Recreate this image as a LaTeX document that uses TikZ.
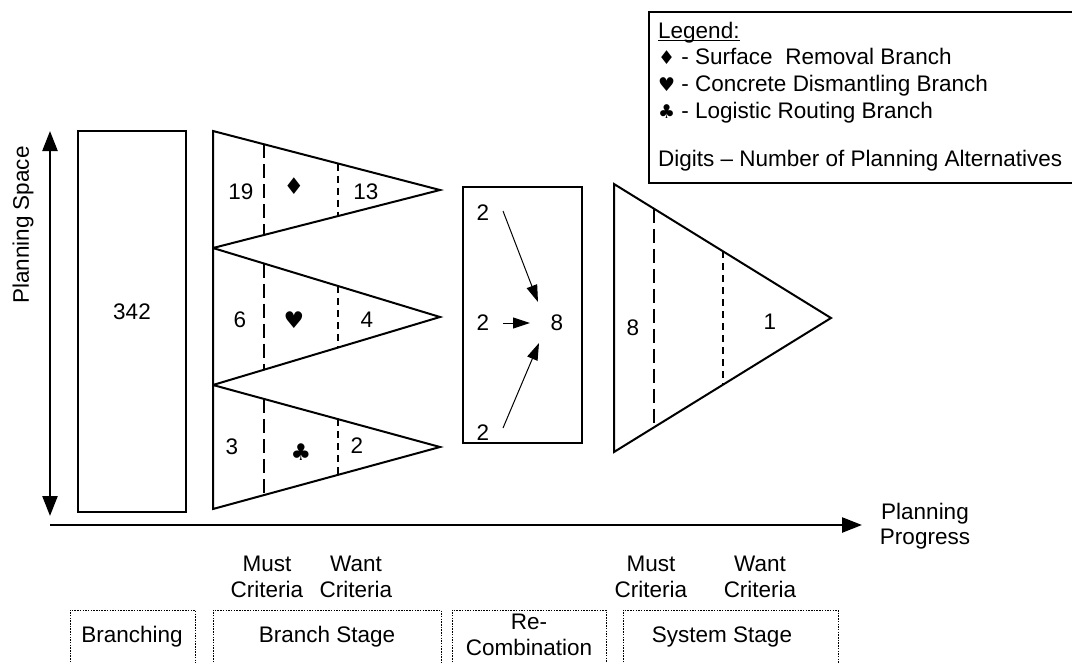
\documentclass[tikz,border=0pt]{standalone}
\usepackage{fontspec}
\setmainfont{Liberation Sans}
\newfontfamily\symf{DejaVu Sans}
\usetikzlibrary{arrows.meta}
\tikzset{
  txt/.style={inner sep=0pt, align=center},
  shapeline/.style={line width=2pt, line join=miter},
  longdash/.style={line width=1.4pt, dash pattern=on 14pt off 6pt},
  shortdash/.style={line width=1.4pt, dash pattern=on 7pt off 5pt},
  axis/.style={line width=2.4pt, -{Triangle[length=20pt,width=15pt]}},
  dblaxis/.style={line width=2.4pt, {Triangle[length=20pt,width=15pt]}-{Triangle[length=20pt,width=15pt]}},
  recarrow/.style={line width=1pt, -{Triangle[length=17pt,width=11pt]}},
  dotbox/.style={line width=1pt, dash pattern=on 1.5pt off 1.2pt},
  legendbox/.style={line width=1.8pt},
  uline/.style={line width=1.1pt},
}
\newcommand{\symsmall}[1]{{\symf\fontsize{19}{19}\selectfont #1}}
\newcommand{\symbig}[1]{{\symf\fontsize{23}{23}\selectfont #1}}
\begin{document}
\begin{tikzpicture}[x=1pt,y=-1pt,font=\fontsize{22.5}{25.5}\selectfont]
\useasboundingbox (0,0) rectangle (1072,662);

% legend
\draw[legendbox] (1075,12) -- (649,12) -- (649,183) -- (1075,183);
\node[txt,anchor=base west] (lg0) at (658,38) {Legend:};
\draw[uline] ([yshift=-2.5pt]lg0.base west) -- ([yshift=-2.5pt]lg0.base east);
\node[txt,anchor=base west] (lg1) at (658,64) {\symsmall{♦} - Surface\ \ Removal Branch};
\node[txt,anchor=base west] (lg2) at (658,91) {\symsmall{♥} - Concrete Dismantling Branch};
\node[txt,anchor=base west] (lg3) at (658,118) {\symsmall{♣} - Logistic Routing Branch};
\node[txt,anchor=base west] (lg4) at (658,166) {Digits -- Number of Planning Alternatives};

% axes
\coordinate (vtop) at (50,131);
\coordinate (vbot) at (50,516);
\draw[dblaxis] (vtop) -- (vbot);
\node[txt,rotate=90] (pspace) at (23,225) {Planning Space};
\coordinate (hstart) at (50,525);
\coordinate (hend) at (862,525);
\draw[axis] (hstart) -- (hend);
\node[txt] (pprog) at (925,526) {Planning\\Progress};

% branching box
\draw[shapeline] (78,131) rectangle (186,512);
\node[txt] (n342) at (132,312) {342};

% branch triangles
\draw[shapeline] (213,131) -- (440,190) -- (213,248) -- cycle;
\draw[shapeline] (213,248) -- (440,317) -- (213,385) -- cycle;
\draw[shapeline] (213,385) -- (440,447) -- (213,509) -- cycle;
% dashed criteria lines
\draw[longdash] (264,144.3) -- (264,235);
\draw[shortdash] (338,163.5) -- (338,216);
\draw[longdash] (264,263.5) -- (264,369.6);
\draw[shortdash] (338,286) -- (338,347);
\draw[longdash] (264,398.9) -- (264,495.1);
\draw[shortdash] (338,419.1) -- (338,475.1);

\node[txt] (t19) at (241,192) {19};
\node[txt] (s1) at (294,186) {\symbig{♦}};
\node[txt] (t13) at (366,192) {13};
\node[txt] (t6) at (240,320) {6};
\node[txt] (s2) at (294,320) {\symbig{♥}};
\node[txt] (t4) at (367,320) {4};
\node[txt] (t3) at (232,447) {3};
\node[txt] (s3) at (301,452) {\symbig{♣}};
\node[txt] (t2) at (357,446) {2};

% recombination
\draw[shapeline] (463,187) rectangle (582,443);
\node[txt] (r1) at (483,213) {2};
\node[txt] (r2) at (483,323) {2};
\node[txt] (r3) at (483,433) {2};
\node[txt] (r8) at (557,323) {8};
\coordinate (a1s) at (503,211);
\coordinate (a1e) at (538,302);
\coordinate (a2s) at (503,323);
\coordinate (a2e) at (530,323);
\coordinate (a3s) at (503,428);
\coordinate (a3e) at (539,343);
\draw[recarrow] (a1s) -- (a1e);
\draw[recarrow] (a2s) -- (a2e);
\draw[recarrow] (a3s) -- (a3e);

% system triangle
\draw[shapeline] (614,184) -- (831,318) -- (614,452) -- cycle;
\draw[longdash] (654,208.7) -- (654,427.3);
\draw[shortdash] (723,251.3) -- (723,384.7);
\node[txt] (s8) at (633,328) {8};
\node[txt] (s1n) at (770,322) {1};

% criteria labels
\node[txt] (bm) at (267,577) {Must\\Criteria};
\node[txt] (bw) at (356,577) {Want\\Criteria};
\node[txt] (sm) at (651,577) {Must\\Criteria};
\node[txt] (sw) at (760,577) {Want\\Criteria};

% stage boxes
\draw[dotbox] (70,665) -- (70,610) -- (195,610) -- (195,665);
\draw[dotbox] (213,665) -- (213,610) -- (441,610) -- (441,665);
\draw[dotbox] (452,665) -- (452,610) -- (606,610) -- (606,665);
\draw[dotbox] (623,665) -- (623,610) -- (838,610) -- (838,665);
\node[txt] (st1) at (132,637) {Branching};
\node[txt] (st2) at (327,637) {Branch Stage};
\node[txt] (st3) at (529,635) {Re-\\Combination};
\node[txt] (st4) at (722,637) {System Stage};
\end{tikzpicture}
\end{document}
